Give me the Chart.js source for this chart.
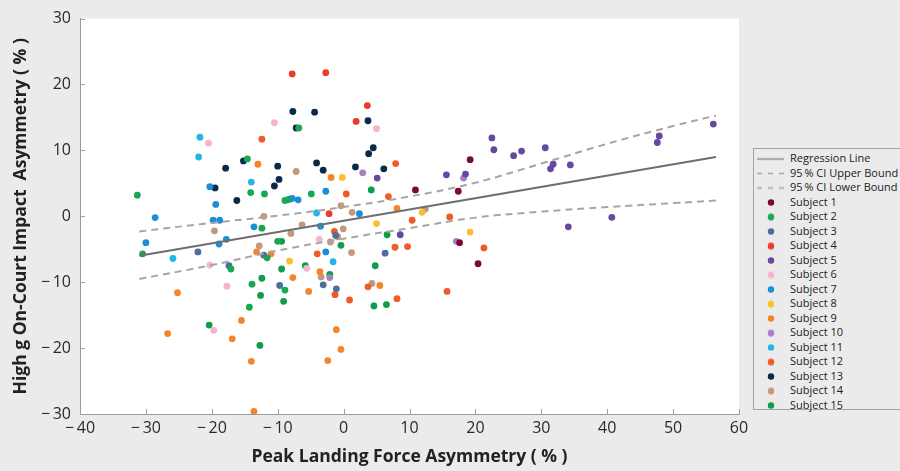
<!DOCTYPE html>
<html>
<head>
<meta charset="utf-8">
<script src="https://cdn.jsdelivr.net/npm/chart.js@4/dist/chart.umd.min.js"></script>
<style>
  html, body { margin: 0; padding: 0; background: #ebebeb; }
  #wrap { position: relative; width: 900px; height: 471px; overflow: hidden; }
  #legend {
    position: absolute; left: 753px; top: 148px; width: 170px; height: 262px;
    border: 1px solid #a3a3a3; background: #ebebeb; box-sizing: border-box;
    font-family: "Open Sans", sans-serif; font-size: 11px; color: #222;
    padding-top: 2px;
  }
  .row { height: 14.5px; line-height: 14.5px; position: relative; white-space: nowrap; }
  .row .mark { position: absolute; left: 3px; top: 0; width: 28px; height: 14.5px; }
  .row span { position: absolute; left: 36px; top: 0; }
</style>
</head>
<body>
<div id="wrap">
  <canvas id="chart" width="900" height="471"></canvas>
  <div id="legend"></div>
</div>
<script>
// axis ranges / ticks
const xTicks = [-40, -30, -20, -10, 0, 10, 20, 30, 40, 50, 60];
const yTicks = [-30, -20, -10, 0, 10, 20, 30];

// regression line and 95% CI bounds
const regX = [-31, 56.5];
const regY = [-6.0, 9.0];
const ciX = [-31, -20, -10, 0, 10, 20, 30, 40, 50, 56.5];
const ciUpper = [-2.3, -1.0, 0.1, 1.4, 3.0, 5.1, 8.0, 11.0, 13.7, 15.3];
const ciLower = [-9.5, -7.4, -5.2, -3.4, -1.8, -0.2, 0.7, 1.4, 2.0, 2.4];

// subjects: [peak landing force asym, high g impact asym]
const subject1 = [[19.2, 8.6], [10.9, 4.0], [17.4, 3.8], [17.6, -4.0], [20.4, -7.2]];
const subject2 = [[-6.8, 13.4], [-14.6, 8.7], [-14.1, 3.6], [-12.0, 3.4], [-31.3, 3.2], [-8.9, 2.4],
  [-8.5, 2.5], [-12.4, -1.8], [-10.0, -3.8], [-30.5, -5.7], [-11.6, -6.3], [-17.1, -8.0],
  [-13.9, -10.3], [-8.9, -11.2], [-14.3, -13.8], [-4.9, 3.4]];
const subject3 = [[-22.1, -5.4], [-12.1, -5.9], [-17.4, -7.5], [-9.7, -10.5], [-1.2, -2.9],
  [6.3, -5.6], [-3.1, -10.4], [-1.1, -11.0]];
const subject4 = [[-7.8, 21.6], [-2.7, 21.8], [3.6, 16.8], [1.9, 14.4], [-2.2, 0.4]];
const subject5 = [[5.1, 5.8], [15.6, 6.3], [18.5, 6.4], [8.6, -2.8], [22.5, 11.9], [22.8, 10.1],
  [25.8, 9.2], [27.0, 9.9], [30.6, 10.4], [31.8, 7.9], [31.4, 7.2], [34.4, 7.8], [47.6, 11.2],
  [47.9, 12.2], [56.1, 14.0], [40.7, -0.15], [34.1, -1.6]];
const subject6 = [[-10.5, 14.2], [-20.5, 11.1], [5.0, 13.3], [-3.7, -3.5], [-20.3, -7.4],
  [-17.7, -10.6], [-19.7, -17.3], [-5.6, -7.9]];
const subject7 = [[-20.3, 4.5], [-7.8, 2.7], [-6.9, 2.5], [-19.4, 1.8], [-28.6, -0.2], [-19.8, -0.6],
  [-18.8, -0.6], [-13.6, -1.6], [-17.8, -3.5], [-18.9, -4.2], [-30.0, -4.0], [-2.7, 3.8],
  [2.4, 0.4], [-3.5, -1.5], [-2.7, -5.4]];
const subject8 = [[-8.2, -6.8], [-0.2, 5.9], [11.9, 0.6], [19.2, -2.4], [5.0, -1.1]];
const subject9 = [[-13.0, 7.9], [-13.2, -5.4], [-11.0, -5.7], [-7.7, -9.3], [-25.2, -11.6],
  [-15.5, -15.8], [-26.7, -17.8], [-16.9, -18.6], [-14.0, -22.0], [-13.6, -29.6], [-1.9, 5.9],
  [8.1, 1.2], [-3.6, -8.4], [-5.3, -11.4], [5.5, -10.5], [-1.1, -17.2], [-0.4, -20.2], [-2.4, -21.9]];
const subject10 = [[2.9, 6.6], [18.2, 5.8], [17.1, -3.8], [-2.1, -9.3]];
const subject11 = [[-21.8, 12.0], [-22.0, 9.0], [-14.0, 5.2], [-25.9, -6.4], [-4.1, 0.5], [-1.6, -6.9]];
const subject12 = [[7.9, 8.0], [0.4, 3.4], [6.8, 3.0], [16.1, -0.1], [21.3, -4.8], [-1.4, -2.3],
  [7.8, -4.7], [9.7, -4.6], [-4.0, -5.7], [0.9, -12.7], [8.1, -12.5], [15.7, -11.4], [-12.4, 11.7],
  [10.4, -0.6], [-1.3, -11.9], [3.7, -10.7]];
const subject13 = [[-7.7, 15.9], [-7.2, 13.4], [-15.2, 8.4], [-10.0, 7.6], [-17.9, 7.3], [-9.8, 5.6],
  [-10.5, 4.6], [-19.5, 4.3], [-16.2, 2.4], [-4.4, 15.8], [3.7, 14.5], [4.5, 10.4], [3.8, 9.5],
  [-4.1, 8.1], [1.8, 7.5], [6.1, 7.2], [-3.1, 7.0]];
const subject14 = [[-7.2, 6.8], [-12.1, 0.0], [-19.6, -2.2], [-8.0, -2.6], [-12.8, -4.5], [-0.4, 1.6],
  [1.3, 0.6], [12.4, 1.1], [-6.3, -1.3], [-0.05, -1.9], [-0.9, -3.1], [-2.0, -3.9], [1.2, -5.5],
  [-3.4, -9.2], [4.3, -10.2]];
const subject15 = [[-8.2, 2.6], [-9.4, -3.8], [-9.4, -8.0], [-12.4, -9.4], [-12.6, -12.0], [-9.1, -12.9],
  [-20.4, -16.5], [-12.7, -19.6], [4.2, 4.0], [-0.4, -4.4], [6.6, -2.8], [-5.8, -7.5], [4.8, -7.5],
  [-2.1, -8.8], [4.6, -13.6], [6.5, -13.4]];

const subjects = [subject1, subject2, subject3, subject4, subject5, subject6, subject7, subject8,
  subject9, subject10, subject11, subject12, subject13, subject14, subject15];
const subjectColors = ['#7d0b30', '#17a851', '#4f6e9e', '#ee3a2a', '#66489f', '#f6b3cc', '#1b8fd6',
  '#fcbf2c', '#f5852a', '#a77fc3', '#25b4ea', '#f05a28', '#0b2a4a', '#c4997a', '#0f9c4b'];

function fmt(v) {
    return v < 0 ? '\u2212\u2009' + Math.abs(v) : String(v);
}

const toPts = (xs, ys) => xs.map((x, i) => ({ x: x, y: ys[i] }));

const datasets = [
    { label: 'Regression Line', data: toPts(regX, regY), showLine: true, borderColor: '#6e6e6e',
      borderWidth: 2, pointRadius: 0, kind: 'solid' },
    { label: '95\u2009% CI Upper Bound', data: toPts(ciX, ciUpper), showLine: true, borderColor: '#a6a6a6',
      borderWidth: 2, borderDash: [7, 5], pointRadius: 0, tension: 0.4, kind: 'dash' },
    { label: '95\u2009% CI Lower Bound', data: toPts(ciX, ciLower), showLine: true, borderColor: '#a6a6a6',
      borderWidth: 2, borderDash: [7, 5], pointRadius: 0, tension: 0.4, kind: 'dash' }
];
subjects.forEach((pts, i) => {
    datasets.push({
        label: 'Subject ' + (i + 1),
        data: pts.map(p => ({ x: p[0], y: p[1] })),
        backgroundColor: subjectColors[i],
        borderWidth: 0,
        pointRadius: 3.4,
        kind: 'dot'
    });
});

// page + plot backgrounds, and inward tick marks
const framePlugin = {
    id: 'frame',
    beforeDraw(chart) {
        const { ctx, chartArea: a } = chart;
        ctx.save();
        ctx.fillStyle = '#ebebeb';
        ctx.fillRect(0, 0, chart.width, chart.height);
        ctx.fillStyle = '#ffffff';
        ctx.fillRect(a.left, a.top, a.right - a.left, a.bottom - a.top);
        ctx.restore();
    },
    afterDatasetsDraw(chart) {
        const { ctx, chartArea: a, scales } = chart;
        ctx.save();
        ctx.strokeStyle = '#a0a0a0';
        ctx.lineWidth = 1;
        ctx.beginPath();
        scales.x.ticks.forEach(t => {
            const px = Math.round(scales.x.getPixelForValue(t.value)) + 0.5;
            ctx.moveTo(px, a.bottom);
            ctx.lineTo(px, a.bottom - 5);
        });
        scales.y.ticks.forEach(t => {
            const py = Math.round(scales.y.getPixelForValue(t.value)) + 0.5;
            ctx.moveTo(a.left, py);
            ctx.lineTo(a.left + 5, py);
        });
        ctx.stroke();
        ctx.restore();
    }
};

const tickFont = { family: '"Open Sans", sans-serif', size: 16 };
const titleFont = { family: '"Open Sans", sans-serif', size: 17.5, weight: 'bold' };

const chart = new Chart(document.getElementById('chart').getContext('2d'), {
    type: 'scatter',
    data: { datasets: datasets },
    options: {
        responsive: false,
        animation: false,
        layout: { padding: { left: 0, top: 15, right: 161, bottom: 0 } },
        plugins: { legend: { display: false }, tooltip: { enabled: false } },
        scales: {
            x: {
                min: xTicks[0], max: xTicks[xTicks.length - 1],
                afterBuildTicks: s => { s.ticks = xTicks.map(v => ({ value: v })); },
                afterFit: s => { s.height = 57; },
                grid: { display: false, drawTicks: false },
                border: { display: true, color: '#9a9a9a', width: 1 },
                ticks: { padding: 5, color: '#2a2a2a', font: tickFont, maxRotation: 0, callback: v => fmt(v) },
                title: { display: true, text: 'Peak Landing Force Asymmetry ( % )', color: '#222',
                         font: titleFont, padding: { top: 0, bottom: 3 } }
            },
            y: {
                min: yTicks[0], max: yTicks[yTicks.length - 1],
                afterBuildTicks: s => { s.ticks = yTicks.map(v => ({ value: v })); },
                afterFit: s => { s.width = 80; },
                grid: { display: false, drawTicks: false },
                border: { display: true, color: '#9a9a9a', width: 1 },
                ticks: { padding: 9, color: '#2a2a2a', font: tickFont, callback: v => fmt(v) },
                title: { display: true, text: 'High g On-Court Impact  Asymmetry ( % )', color: '#222',
                         font: titleFont, padding: { top: 11, bottom: 0 } }
            }
        }
    },
    plugins: [framePlugin]
});

// legend box built from the datasets
const legend = document.getElementById('legend');
chart.data.datasets.forEach(ds => {
    const row = document.createElement('div');
    row.className = 'row';
    const mark = document.createElement('canvas');
    mark.className = 'mark';
    mark.width = 28; mark.height = 14;
    const c = mark.getContext('2d');
    if (ds.kind === 'dot') {
        c.fillStyle = ds.backgroundColor;
        c.beginPath(); c.arc(14, 7.5, 3.2, 0, Math.PI * 2); c.fill();
    } else {
        c.strokeStyle = ds.kind === 'solid' ? '#8a8a8a' : '#a6a6a6';
        c.lineWidth = 1.3;
        if (ds.kind === 'dash') c.setLineDash([5, 6]);
        c.beginPath(); c.moveTo(0, 7.5); c.lineTo(27, 7.5); c.stroke();
    }
    const txt = document.createElement('span');
    txt.textContent = ds.label;
    row.appendChild(mark);
    row.appendChild(txt);
    legend.appendChild(row);
});
</script>
</body>
</html>
